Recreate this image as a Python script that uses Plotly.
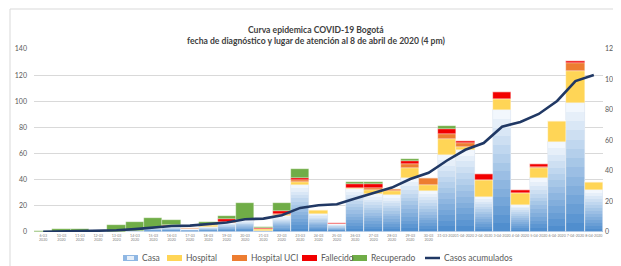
import numpy as np
import plotly.graph_objects as go

# ---------------- data ----------------
fechas = ["6-03<br>2020"] + [f"{d}-03<br>2020" for d in range(10, 31)] + ["31-03-2020"] + [f"{d}-04-2020" for d in range(1, 9)]

casa       = [0, 0, 0, 1, 0, 1, 3, 4, 2, 4, 7, 9, 1, 12, 36, 14, 6, 33, 29, 28, 41, 31, 59, 63, 27, 93, 21, 41, 69, 99, 32]
hospital   = [0, 0, 0, 0, 0, 0, 0, 0, 0, 1, 0, 0, 1, 1, 2, 3, 0, 1, 3, 3, 8, 5, 12, 2, 13, 9, 9, 8, 16, 24, 6]
hosp_uci   = [0, 0, 0, 0, 0, 0, 0, 1, 1, 0, 1, 0, 0, 1, 2, 0, 0, 0, 2, 2, 3, 5, 4, 3, 0, 0, 0, 1, 0, 6, 0]
fallecido  = [0, 0, 0, 0, 0, 0, 0, 0, 0, 0, 2, 0, 1, 2, 1, 0, 1, 3, 3, 0, 2, 0, 4, 2, 4, 5, 2, 2, 0, 2, 0]
recuperado = [1, 2, 2, 0, 5, 7, 8, 4, 0, 3, 2, 13, 1, 6, 7, 0, 0, 1, 1, 0, 2, 0, 2, 0, 0, 0, 0, 0, 0, 0, 0]
acumulados = [1, 3, 5, 6, 11, 19, 30, 39, 42, 50, 62, 84, 88, 110, 158, 175, 182, 220, 258, 291, 347, 388,
              469, 539, 583, 690, 722, 774, 859, 990, 1030]

left_ticks = [0, 20, 40, 60, 80, 100, 120, 140]
right_ticks = [0, 200, 400, 600, 800, 1000, 1200]

# ---------------- style ----------------
OFF = 8                      # browser body margin
W, H = 621 - OFF, 266 - OFF
L, R, T, B = 34 - OFF, 18, 49 - OFF, 34
PW, PH = W - L - R, H - T - B
FONT = "Lato"
GREY = "#595959"
C_LIGHT = np.array([242, 247, 253])
C_DARK = np.array([80, 142, 206])
C_HOSP = "#FFD556"
C_UCI = "#ED7D31"
C_FALL = "#F20000"
C_REC = "#70AD47"
C_LINE = "#203864"


def px2x(px):  # page pixel -> paper
    return (px - OFF - L) / PW


def py2y(py):
    return (H - B - (py - OFF)) / PH


def rgb(c):
    return "rgb(%d,%d,%d)" % tuple(int(round(v)) for v in c)


fig = go.Figure()

casa_a = np.array(casa, dtype=float)
N = 14
for k in range(N):
    frac = (N - k) / N
    col = C_LIGHT + (C_DARK - C_LIGHT) * (k / (N - 1))
    fig.add_trace(go.Bar(
        x=fechas, y=casa_a * frac, base=0, name="Casa",
        marker=dict(color=rgb(col), line=dict(width=0)),
        showlegend=False, hoverinfo="skip"))
fig.add_trace(go.Bar(x=fechas, y=casa_a, base=0, showlegend=False, hoverinfo="skip",
                     marker=dict(color="rgba(0,0,0,0)", line=dict(width=0.8, color="rgba(225,232,242,0.9)"))))

base = casa_a.copy()
for vals, col, name in [(hospital, C_HOSP, "Hospital"), (hosp_uci, C_UCI, "Hospital UCI"),
                        (fallecido, C_FALL, "Fallecido"), (recuperado, C_REC, "Recuperado")]:
    v = np.array(vals, dtype=float)
    fig.add_trace(go.Bar(x=fechas, y=v, base=base.copy(), name=name,
                         marker=dict(color=col, line=dict(width=0.5, color="rgba(255,255,255,0.6)")),
                         showlegend=False))
    base = base + v

fig.add_trace(go.Scatter(x=fechas, y=acumulados, yaxis="y2", mode="lines", name="Casos acumulados",
                         line=dict(color=C_LINE, width=2.6), showlegend=False))

# ---------------- custom legend ----------------
shapes = []
annots = []
ly = 258
leg = [("Casa", 123, None), ("Hospital", 167, C_HOSP), ("Hospital UCI", 232, C_UCI),
       ("Fallecido", 302, C_FALL), ("Recuperado", 352, C_REC), ("Casos acumulados", 425, "line")]
for text, sx, col in leg:
    if col == "line":
        shapes.append(dict(type="line", xref="paper", yref="paper", x0=px2x(sx), x1=px2x(sx + 15),
                           y0=py2y(ly), y1=py2y(ly), line=dict(color=C_LINE, width=2.5)))
    elif col is None:
        shapes.append(dict(type="rect", xref="paper", yref="paper", x0=px2x(sx), x1=px2x(sx + 15),
                           y0=py2y(ly + 3), y1=py2y(ly - 3), line=dict(width=0),
                           fillcolor="#8fb7e3"))
        shapes.append(dict(type="rect", xref="paper", yref="paper", x0=px2x(sx + 4), x1=px2x(sx + 11),
                           y0=py2y(ly + 2), y1=py2y(ly - 2), line=dict(width=0),
                           fillcolor="#e6eff9"))
    else:
        shapes.append(dict(type="rect", xref="paper", yref="paper", x0=px2x(sx), x1=px2x(sx + 15),
                           y0=py2y(ly + 3), y1=py2y(ly - 3), line=dict(width=0), fillcolor=col))
    annots.append(dict(text=text, xref="paper", yref="paper", x=px2x(sx + 16.5), y=py2y(ly),
                       xanchor="left", yanchor="middle", showarrow=False,
                       font=dict(family=FONT, size=8.5, color=GREY)))

# chart border (light grey, left and top edges visible)
shapes.append(dict(type="line", xref="paper", yref="paper", x0=px2x(10), x1=px2x(640),
                   y0=py2y(9), y1=py2y(9), line=dict(color="#d9d9d9", width=1)))
shapes.append(dict(type="line", xref="paper", yref="paper", x0=px2x(10), x1=px2x(10),
                   y0=py2y(9), y1=py2y(280), line=dict(color="#d9d9d9", width=1)))

# titles
annots.append(dict(text="<b>Curva epidemica COVID-19 Bogotá</b>", xref="paper", yref="paper",
                   x=px2x(316), y=py2y(30), xanchor="center", yanchor="middle", showarrow=False,
                   font=dict(family=FONT, size=8.6, color="#404040")))
annots.append(dict(text="<b>fecha de diagnóstico y lugar de atención al 8 de abril de 2020 (4 pm)</b>",
                   xref="paper", yref="paper", x=px2x(316), y=py2y(41), xanchor="center",
                   yanchor="middle", showarrow=False,
                   font=dict(family=FONT, size=8.6, color="#404040")))

fig.update_layout(
    width=W, height=H, margin=dict(l=L, r=R, t=T, b=B, pad=0),
    paper_bgcolor="white", plot_bgcolor="white",
    barmode="overlay", bargap=0,
    showlegend=False,
    font=dict(family=FONT, color=GREY),
    xaxis=dict(type="category", range=[-0.5, len(fechas) - 0.5], showgrid=False, zeroline=False,
               showline=False, ticks="", tickfont=dict(size=3.6, color="#7f7f7f"), tickangle=0,
               automargin=False),
    yaxis=dict(range=[0, 140], tickvals=left_ticks, showgrid=True, gridcolor="#d9d9d9", gridwidth=1,
               zeroline=False, showline=False, ticks="", tickfont=dict(size=7, color=GREY),
               ticklabelstandoff=6, automargin=False),
    yaxis2=dict(range=[0, 1200], tickvals=right_ticks, overlaying="y", side="right", showgrid=False,
                zeroline=False, showline=False, ticks="", tickfont=dict(size=7, color=GREY),
                ticklabelstandoff=1, automargin=False),
    shapes=shapes, annotations=annots,
)

fig.write_html("out.html")
